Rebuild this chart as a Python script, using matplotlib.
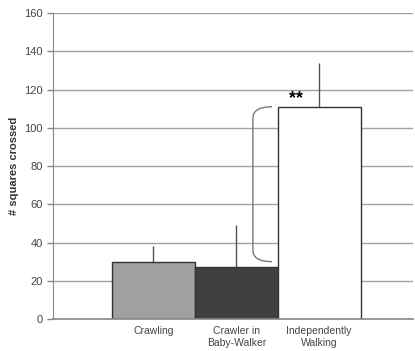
import matplotlib
matplotlib.use("Agg")
from matplotlib import pyplot as plt
from matplotlib.path import Path
from matplotlib.patches import PathPatch

categories = ["Crawling", "Crawler in\nBaby-Walker", "Independently\nWalking"]
means = [30, 27, 111]
errors = [8, 22, 23]
colors = ["#a0a0a0", "#404040", "#ffffff"]

plt.rcParams['font.family'] = ['Liberation Sans', 'DejaVu Sans']

fig = plt.figure(figsize=(4.15, 3.51), dpi=100)
ax = fig.add_axes([0.128, 0.091, 0.867, 0.872])

x = list(range(len(categories)))
ax.bar(x, means, width=1.0, color=colors, edgecolor="#333333", linewidth=1.0, zorder=3)
ax.errorbar(x, means, yerr=[[0] * 3, errors], fmt="none", ecolor="#555555",
            elinewidth=1.0, capsize=0, zorder=2)

ax.set_ylim(0, 160)
ax.set_xlim(-1.21, 3.13)
ax.set_yticks(range(0, 161, 20))
ax.yaxis.grid(True, color="#a0a0a0", linewidth=1.0, zorder=0)
ax.axhline(0, color="#888888", linewidth=1.2, clip_on=False, zorder=4)
ax.set_axisbelow(True)
ax.set_xticks(x)
ax.set_xticklabels(categories, fontsize=7.5, color="#444444")
ax.tick_params(axis="x", length=0, pad=5)
ax.tick_params(axis="y", labelsize=8, labelcolor="#444444", color="#888888", length=4, width=1)
for s in ["top", "right", "bottom"]:
    ax.spines[s].set_visible(False)
ax.spines["left"].set_color("#888888")
ax.set_ylabel("# squares crossed", fontsize=8, fontweight="bold", color="#333333", labelpad=4)

# bracket between crawlers and walkers
lo, hi = means[0], means[2]
x0, x1 = 1.2, 1.43
r = 6
verts = [(x1, hi), (x0, hi), (x0, hi - r), (x0, lo + r), (x0, lo), (x1, lo)]
codes = [Path.MOVETO, Path.CURVE3, Path.CURVE3, Path.LINETO, Path.CURVE3, Path.CURVE3]
ax.add_patch(PathPatch(Path(verts, codes), fill=False, edgecolor="#777777", linewidth=1.0, zorder=4))
ax.text(1.72, hi, "**", fontsize=13, fontweight="bold", ha="center", va="bottom", zorder=5)

fig.savefig("out.png", dpi=100)
